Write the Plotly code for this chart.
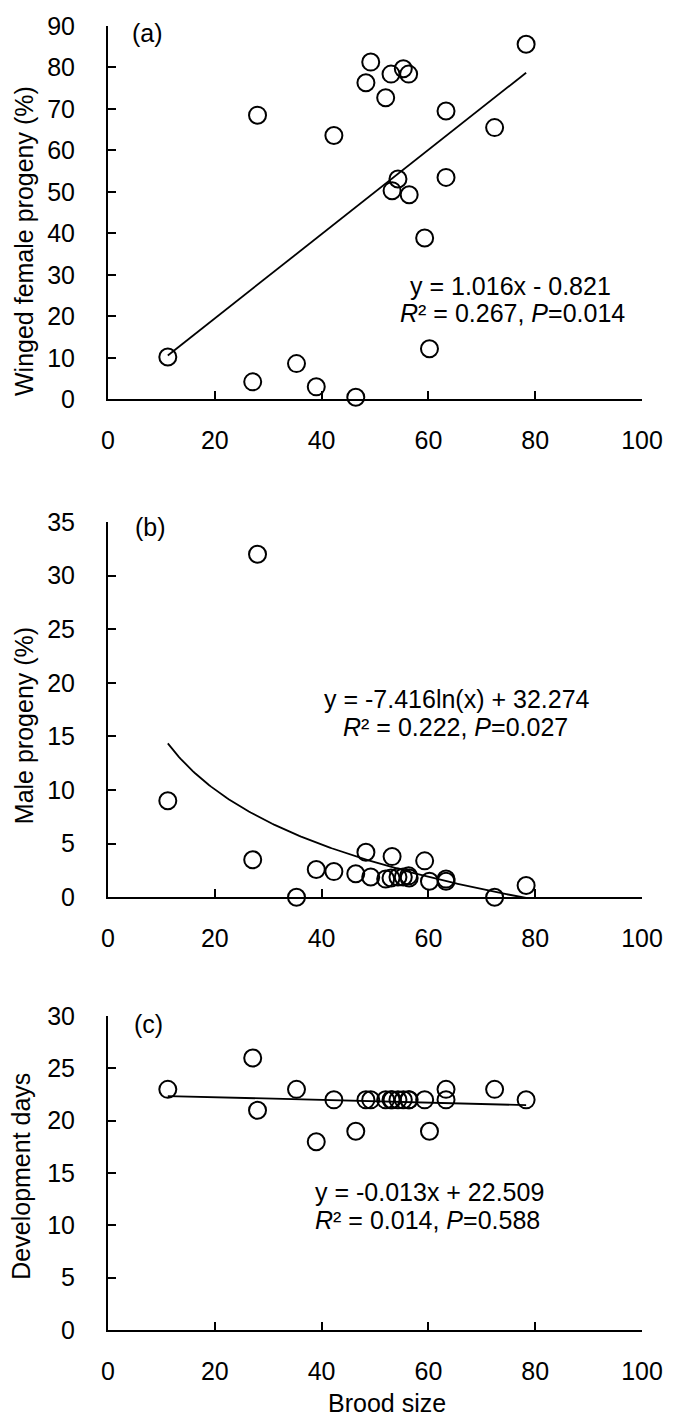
import numpy as np
import plotly.graph_objects as go

# ---------------- data ----------------
brood_size = [11.2, 27.1, 28.0, 35.3, 39.0, 42.3, 46.4, 48.3, 49.2, 52.0, 53.0,
              53.2, 54.3, 55.3, 56.3, 56.4, 59.3, 60.2, 63.3, 63.3, 72.4, 78.3]
winged_female = [10.2, 4.2, 68.5, 8.6, 3.0, 63.6, 0.5, 76.3, 81.3, 72.7, 78.4,
                 50.3, 53.1, 79.7, 78.4, 49.3, 38.9, 12.2, 69.5, 53.5, 65.5, 85.6]
male_progeny = [9.0, 3.5, 32.0, 0.0, 2.6, 2.4, 2.2, 4.2, 1.9, 1.7, 1.8,
                3.8, 1.9, 1.9, 2.0, 1.8, 3.4, 1.5, 1.5, 1.7, 0.0, 1.1]
dev_days = [23, 26, 21, 23, 18, 22, 19, 22, 22, 22, 22,
            22, 22, 22, 22, 22, 22, 19, 23, 22, 23, 22]

# fitted trend-line coefficients as printed on the chart
fit_a = [1.016, -0.821]      # y = a*x + b
fit_b = [-7.416, 32.274]     # y = a*ln(x) + b
fit_c = [-0.013, 22.509]     # y = a*x + b

x_ticks = [0, 20, 40, 60, 80, 100]

FONT = "Liberation Sans, Arial, sans-serif"
FS = 25

xs = np.array(brood_size)
x_lin = np.array([xs.min(), xs.max()])
x_log = np.linspace(xs.min(), xs.max(), 200)

fig = go.Figure()

marker = dict(symbol="circle-open", size=17, color="black", line=dict(width=2, color="black"))

# panel a
fig.add_trace(go.Scatter(x=brood_size, y=winged_female, mode="markers", marker=marker,
                         xaxis="x", yaxis="y", cliponaxis=False, showlegend=False))
fig.add_trace(go.Scatter(x=x_lin, y=fit_a[0] * x_lin + fit_a[1], mode="lines",
                         line=dict(color="black", width=1.8), xaxis="x", yaxis="y", showlegend=False))
# panel b
fig.add_trace(go.Scatter(x=brood_size, y=male_progeny, mode="markers", marker=marker,
                         xaxis="x2", yaxis="y2", cliponaxis=False, showlegend=False))
fig.add_trace(go.Scatter(x=x_log, y=fit_b[0] * np.log(x_log) + fit_b[1], mode="lines",
                         line=dict(color="black", width=1.8), xaxis="x2", yaxis="y2", showlegend=False))
# panel c
fig.add_trace(go.Scatter(x=brood_size, y=dev_days, mode="markers", marker=marker,
                         xaxis="x3", yaxis="y3", cliponaxis=False, showlegend=False))
fig.add_trace(go.Scatter(x=x_lin, y=fit_c[0] * x_lin + fit_c[1], mode="lines",
                         line=dict(color="black", width=1.8), xaxis="x3", yaxis="y3", showlegend=False))


def xax(anchor):
    return dict(domain=[0, 1], range=[0, 100], tickvals=x_ticks, anchor=anchor,
                showline=True, linecolor="black", linewidth=2, ticks="inside", ticklen=8,
                tickwidth=2, tickcolor="black", showgrid=False, zeroline=False,
                ticklabelstandoff=18, tickfont=dict(family=FONT, size=FS, color="black"))


def yax(anchor, dom, rng, dtick):
    return dict(domain=dom, range=rng, dtick=dtick, tick0=0, anchor=anchor,
                showline=True, linecolor="black", linewidth=2, ticks="inside", ticklen=8,
                tickwidth=2, tickcolor="black", showgrid=False, zeroline=False,
                ticklabelstandoff=26, tickfont=dict(family=FONT, size=FS, color="black"))


H = 1417
T, B = 13, 87
PH = H - T - B


def py(px):
    return (H - B - px) / PH


fig.update_layout(
    width=675, height=H,
    margin=dict(l=108, r=32, t=T, b=B),
    paper_bgcolor="white", plot_bgcolor="white",
    font=dict(family=FONT, size=FS, color="black"),
    xaxis=xax("y"), yaxis=yax("x", [py(390), py(13)], [0, 90], 10),
    xaxis2=xax("y2"), yaxis2=yax("x2", [py(893), py(514)], [0, 35], 5),
    xaxis3=xax("y3"), yaxis3=yax("x3", [py(1330), py(1013)], [0, 30], 5),
)

ann = []


def txt(text, x, y, xref, yref, **kw):
    d = dict(text=text, x=x, y=y, xref=xref, yref=yref, showarrow=False,
             font=dict(family=FONT, size=FS, color="black"), xanchor="center", yanchor="middle")
    d.update(kw)
    ann.append(d)


# panel labels and equations
txt("(a)", 7.4, 88.3, "x", "y")
txt("y = 1.016x - 0.821", 75.4, 27.4, "x", "y")
txt("<i>R</i>² = 0.267, <i>P</i>=0.014", 75.8, 20.7, "x", "y")

txt("(b)", 7.9, 34.5, "x2", "y2")
txt("y = -7.416ln(x) + 32.274", 65.4, 18.5, "x2", "y2")
txt("<i>R</i>² = 0.222, <i>P</i>=0.027", 65.1, 15.9, "x2", "y2")

txt("(c)", 7.6, 29.2, "x3", "y3")
txt("y = -0.013x + 22.509", 60.2, 13.2, "x3", "y3")
txt("<i>R</i>² = 0.014, <i>P</i>=0.588", 59.8, 10.5, "x3", "y3")

# axis titles
txt("Winged female progeny (%)", (24 - 108) / 535, py(230), "paper", "paper", textangle=-90)
txt("Male progeny (%)", (24 - 108) / 535, py(720), "paper", "paper", textangle=-90)
txt("Development days", (20 - 108) / 535, py(1175), "paper", "paper", textangle=-90)
txt("Brood size", (388 - 108) / 535, py(1404), "paper", "paper")

fig.update_layout(annotations=ann)

fig.write_html(
    "out.html",
    config={"displayModeBar": False},
    post_script="document.body.style.margin='0';document.body.style.overflow='hidden';",
)
